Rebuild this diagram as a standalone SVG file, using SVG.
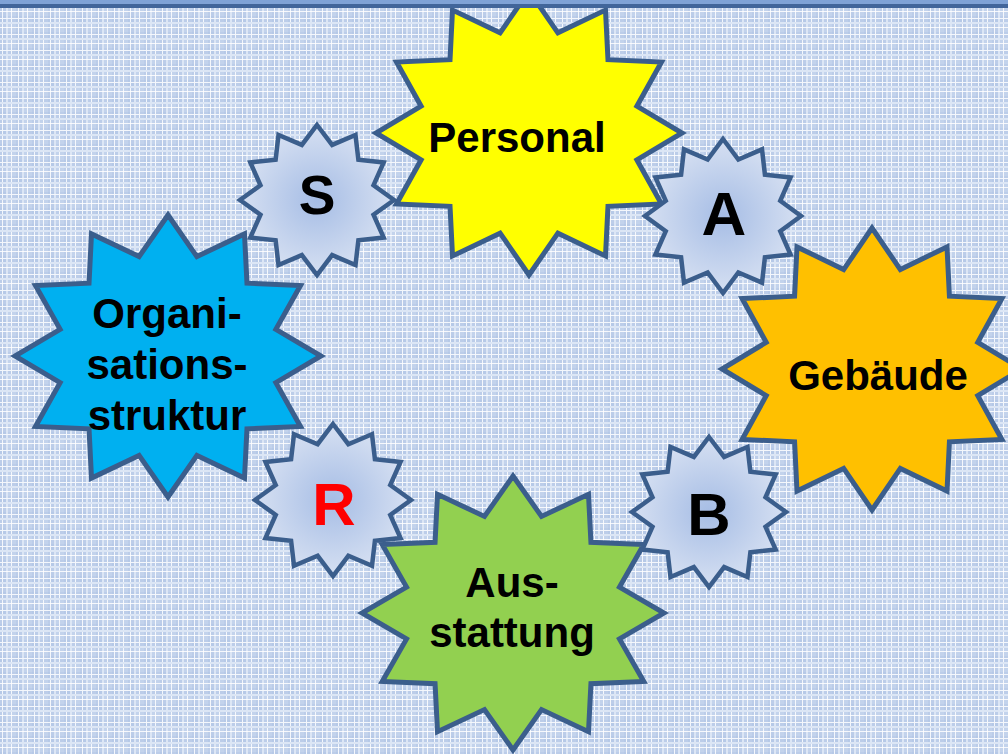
<svg xmlns="http://www.w3.org/2000/svg" xmlns:xlink="http://www.w3.org/1999/xlink" width="1008" height="754" viewBox="0 0 1008 754">
<style>
.lbl{font-family:"Liberation Sans",Arial,sans-serif;font-weight:bold;text-anchor:middle;fill:#000}
.big{font-size:42px}
.edge{stroke:#3b5e8c;vector-effect:non-scaling-stroke;stroke-linejoin:miter}
#bigStar{stroke-width:5}
#smallStar{stroke-width:4.5}
</style>
<defs>
<pattern id="weave" width="16" height="16" patternUnits="userSpaceOnUse">
<rect width="16" height="16" fill="#bccde9"/>
<rect x="0" y="0" width="8" height="8" fill="#b3c7e6" opacity="0.6"/>
<rect x="8" y="8" width="8" height="8" fill="#c7d6ee" opacity="0.7"/>
<rect x="2" y="0" width="1" height="16" fill="#f4f7fc"/>
<rect x="6" y="0" width="2" height="16" fill="#dce6f5"/>
<rect x="11" y="0" width="1" height="16" fill="#ffffff" opacity="0.85"/>
<rect x="0" y="2" width="16" height="1" fill="#f4f7fc"/>
<rect x="0" y="6" width="16" height="2" fill="#dce6f5"/>
<rect x="0" y="11" width="16" height="1" fill="#ffffff" opacity="0.85"/>
</pattern>
<radialGradient id="smallFill" cx="0.5" cy="0.5" r="0.5">
<stop offset="0" stop-color="#a6bde5"/>
<stop offset="1" stop-color="#d6e0f2"/>
</radialGradient>
<path id="bigStar" class="edge" d="M0,-1 L0.1889,-0.7051 L0.5,-0.866 L0.5162,-0.5162 L0.866,-0.5 L0.7051,-0.1889 L1,0 L0.7051,0.1889 L0.866,0.5 L0.5162,0.5162 L0.5,0.866 L0.1889,0.7051 L0,1 L-0.1889,0.7051 L-0.5,0.866 L-0.5162,0.5162 L-0.866,0.5 L-0.7051,0.1889 L-1,0 L-0.7051,-0.1889 L-0.866,-0.5 L-0.5162,-0.5162 L-0.5,-0.866 L-0.1889,-0.7051 Z"/>
<path id="smallStar" class="edge" fill="url(#smallFill)" d="M0,-1 L0.1967,-0.7341 L0.5,-0.866 L0.5374,-0.5374 L0.866,-0.5 L0.7341,-0.1967 L1,0 L0.7341,0.1967 L0.866,0.5 L0.5374,0.5374 L0.5,0.866 L0.1967,0.7341 L0,1 L-0.1967,0.7341 L-0.5,0.866 L-0.5374,0.5374 L-0.866,0.5 L-0.7341,0.1967 L-1,0 L-0.7341,-0.1967 L-0.866,-0.5 L-0.5374,-0.5374 L-0.5,-0.866 L-0.1967,-0.7341 Z"/>
</defs>

<rect width="1008" height="754" fill="url(#weave)"/>

<g id="connectors"></g>

<g id="node-personal">
<use xlink:href="#bigStar" href="#bigStar" fill="#ffff00" transform="translate(529,133) scale(153,142)"/>
<text class="lbl big" x="517" y="152">Personal</text>
</g>

<g id="node-organisationsstruktur">
<use xlink:href="#bigStar" href="#bigStar" fill="#00b0f0" transform="translate(168,356) scale(153,141)"/>
<text class="lbl big" x="167" y="328">Organi-</text>
<text class="lbl big" x="167" y="379">sations-</text>
<text class="lbl big" x="167" y="430">struktur</text>
</g>

<g id="node-gebaeude">
<use xlink:href="#bigStar" href="#bigStar" fill="#ffc000" transform="translate(872,369) scale(150,141)"/>
<text class="lbl big" x="878" y="390">Gebäude</text>
</g>

<g id="node-ausstattung">
<use xlink:href="#bigStar" href="#bigStar" fill="#92d050" transform="translate(513,613) scale(151,137)"/>
<text class="lbl big" x="512" y="597">Aus-</text>
<text class="lbl big" x="512" y="647">stattung</text>
</g>

<g id="node-s">
<use xlink:href="#smallStar" href="#smallStar" transform="translate(317,200) scale(77,75)"/>
<text class="lbl" x="317" y="214" font-size="55">S</text>
</g>

<g id="node-a">
<use xlink:href="#smallStar" href="#smallStar" transform="translate(723,216) scale(78,77)"/>
<text class="lbl" x="724" y="235" font-size="62">A</text>
</g>

<g id="node-r">
<use xlink:href="#smallStar" href="#smallStar" transform="translate(333,500) scale(78,76)"/>
<text class="lbl" x="334" y="525" font-size="60" style="fill:#ff0000">R</text>
</g>

<g id="node-b">
<use xlink:href="#smallStar" href="#smallStar" transform="translate(709,512) scale(77,75)"/>
<text class="lbl" x="709" y="535" font-size="60">B</text>
</g>

<g id="topbar">
<rect x="0" y="0" width="1008" height="4" fill="#7fa2d6"/>
<rect x="0" y="4" width="1008" height="4" fill="#41659a"/>
</g>
</svg>
